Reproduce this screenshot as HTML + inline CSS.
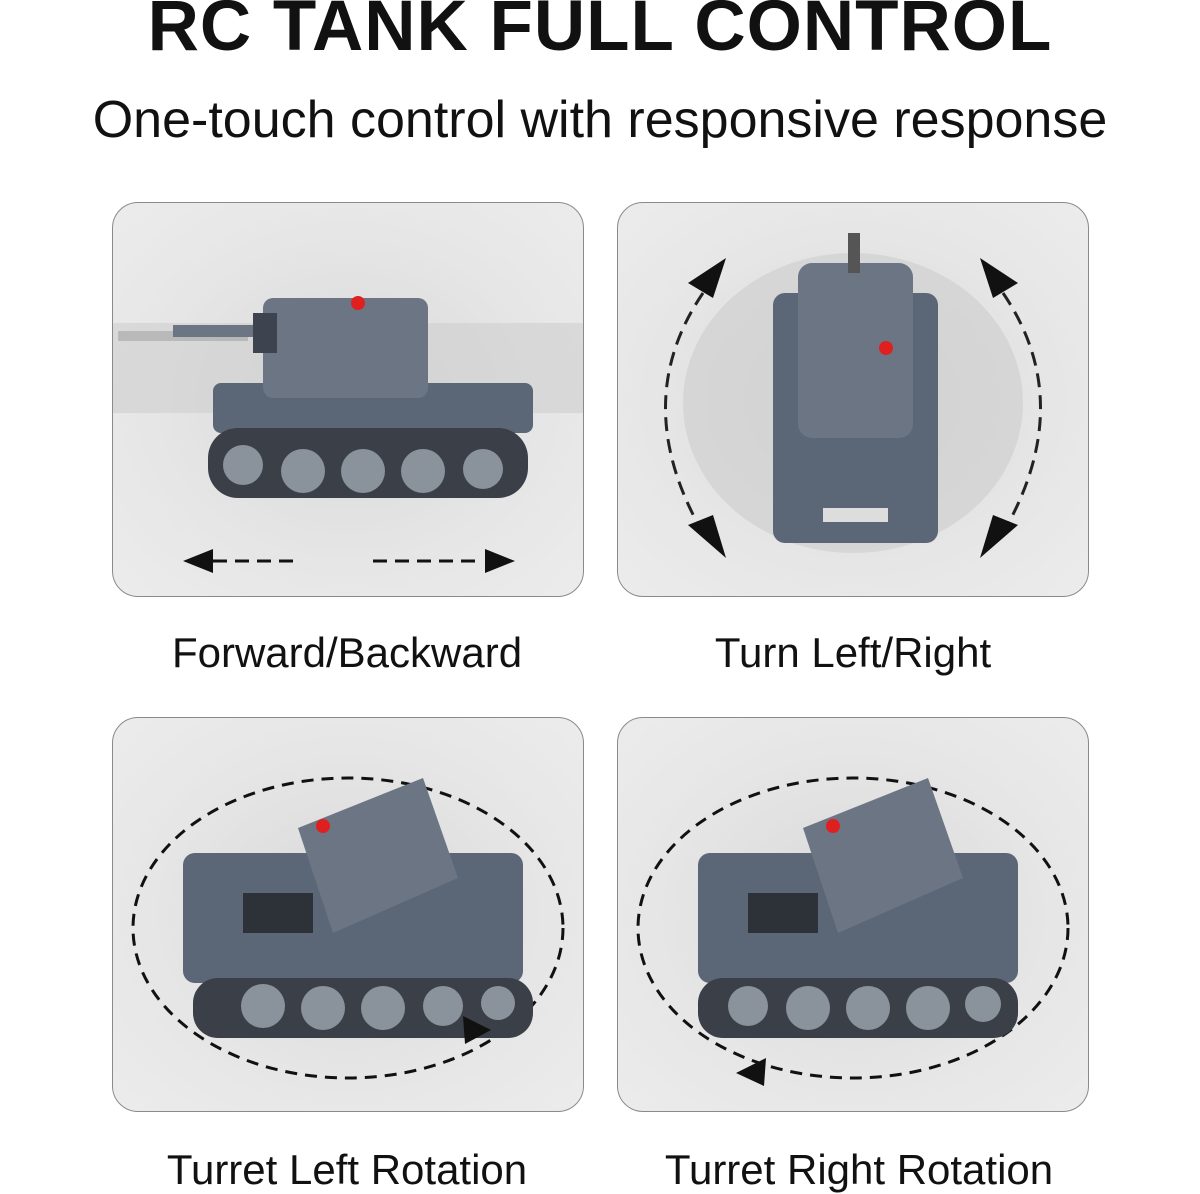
<!DOCTYPE html>
<html><head><meta charset="utf-8"><style>
html,body{margin:0;padding:0;background:#fff;width:1200px;height:1194px;overflow:hidden;font-family:"Liberation Sans",sans-serif;}
.t{position:absolute;left:0;width:1200px;text-align:center;color:#111;}
.p{position:absolute;width:470px;height:393px;border:1.5px solid #8a8a8a;border-radius:26px;background:radial-gradient(ellipse at center,#d8d8d8 0%,#e6e6e6 60%,#ececec 100%);overflow:hidden;}
</style></head><body>
<div class="t" style="top:-14px;font-size:71px;font-weight:bold;letter-spacing:1px;">RC TANK FULL CONTROL</div>
<div class="t" style="top:90px;font-size:52px;">One-touch control with responsive response</div>

<div class="p" style="left:112px;top:202px;">
<svg width="470" height="393">
<rect x="0" y="120" width="470" height="90" fill="#cfcfcf" opacity=".6"/>
<rect x="5" y="128" width="130" height="10" fill="#999" opacity=".5"/>
<rect x="100" y="180" width="320" height="50" rx="8" fill="#5b6676"/>
<rect x="150" y="95" width="165" height="100" rx="10" fill="#6b7584"/>
<rect x="60" y="122" width="100" height="12" fill="#6b7584"/>
<rect x="140" y="110" width="24" height="40" fill="#3d4450"/>
<circle cx="245" cy="100" r="7" fill="#e02020"/>
<rect x="95" y="225" width="320" height="70" rx="30" fill="#3a3f48"/>
<g fill="#8a929c"><circle cx="130" cy="262" r="20"/><circle cx="190" cy="268" r="22"/><circle cx="250" cy="268" r="22"/><circle cx="310" cy="268" r="22"/><circle cx="370" cy="266" r="20"/></g>
<g stroke="#111" stroke-width="3" stroke-dasharray="14 8"><line x1="100" y1="358" x2="180" y2="358"/><line x1="260" y1="358" x2="370" y2="358"/></g>
<polygon points="70,358 100,346 100,370" fill="#111"/><polygon points="402,358 372,346 372,370" fill="#111"/>
</svg></div>

<div class="p" style="left:617px;top:202px;">
<svg width="470" height="393">
<ellipse cx="235" cy="200" rx="170" ry="150" fill="#cdcdcd" opacity=".6"/>
<rect x="155" y="90" width="165" height="250" rx="12" fill="#5b6676"/>
<rect x="180" y="60" width="115" height="175" rx="14" fill="#6b7584"/>
<rect x="230" y="30" width="12" height="40" fill="#555"/>
<circle cx="268" cy="145" r="7" fill="#e02020"/>
<rect x="205" y="305" width="65" height="14" fill="#ddd"/>
<g fill="none" stroke="#222" stroke-width="3" stroke-dasharray="14 8">
<path d="M85,90 Q10,200 85,330"/><path d="M385,90 Q460,200 385,330"/></g>
<polygon points="108,55 70,80 95,95" fill="#111"/><polygon points="108,355 70,322 95,312" fill="#111"/>
<polygon points="362,55 400,80 375,95" fill="#111"/><polygon points="362,355 400,322 375,312" fill="#111"/>
</svg></div>

<div class="t" style="left:-253px;top:629px;font-size:42px;">Forward/Backward</div>
<div class="t" style="left:253px;top:629px;font-size:42px;">Turn Left/Right</div>

<div class="p" style="left:112px;top:717px;">
<svg width="470" height="393">
<ellipse cx="235" cy="210" rx="215" ry="150" fill="none" stroke="#111" stroke-width="3" stroke-dasharray="12 8"/>
<rect x="70" y="135" width="340" height="130" rx="12" fill="#5b6676"/>
<polygon points="185,110 310,60 345,160 220,215" fill="#6b7584"/>
<rect x="130" y="175" width="70" height="40" fill="#2d3138"/>
<circle cx="210" cy="108" r="7" fill="#e02020"/>
<rect x="80" y="260" width="340" height="60" rx="25" fill="#3a3f48"/>
<g fill="#8a929c"><circle cx="150" cy="288" r="22"/><circle cx="210" cy="290" r="22"/><circle cx="270" cy="290" r="22"/><circle cx="330" cy="288" r="20"/><circle cx="385" cy="285" r="17"/></g>
<polygon points="378,312 350,298 352,326" fill="#111"/>
</svg></div>

<div class="p" style="left:617px;top:717px;">
<svg width="470" height="393">
<ellipse cx="235" cy="210" rx="215" ry="150" fill="none" stroke="#111" stroke-width="3" stroke-dasharray="12 8"/>
<rect x="80" y="135" width="320" height="130" rx="12" fill="#5b6676"/>
<polygon points="185,110 310,60 345,160 220,215" fill="#6b7584"/>
<rect x="130" y="175" width="70" height="40" fill="#2d3138"/>
<circle cx="215" cy="108" r="7" fill="#e02020"/>
<rect x="80" y="260" width="320" height="60" rx="25" fill="#3a3f48"/>
<g fill="#8a929c"><circle cx="130" cy="288" r="20"/><circle cx="190" cy="290" r="22"/><circle cx="250" cy="290" r="22"/><circle cx="310" cy="290" r="22"/><circle cx="365" cy="286" r="18"/></g>
<polygon points="118,355 148,340 146,368" fill="#111"/>
</svg></div>

<div class="t" style="left:-253px;top:1146px;font-size:42px;">Turret Left Rotation</div>
<div class="t" style="left:259px;top:1146px;font-size:42px;">Turret Right Rotation</div>
</body></html>
